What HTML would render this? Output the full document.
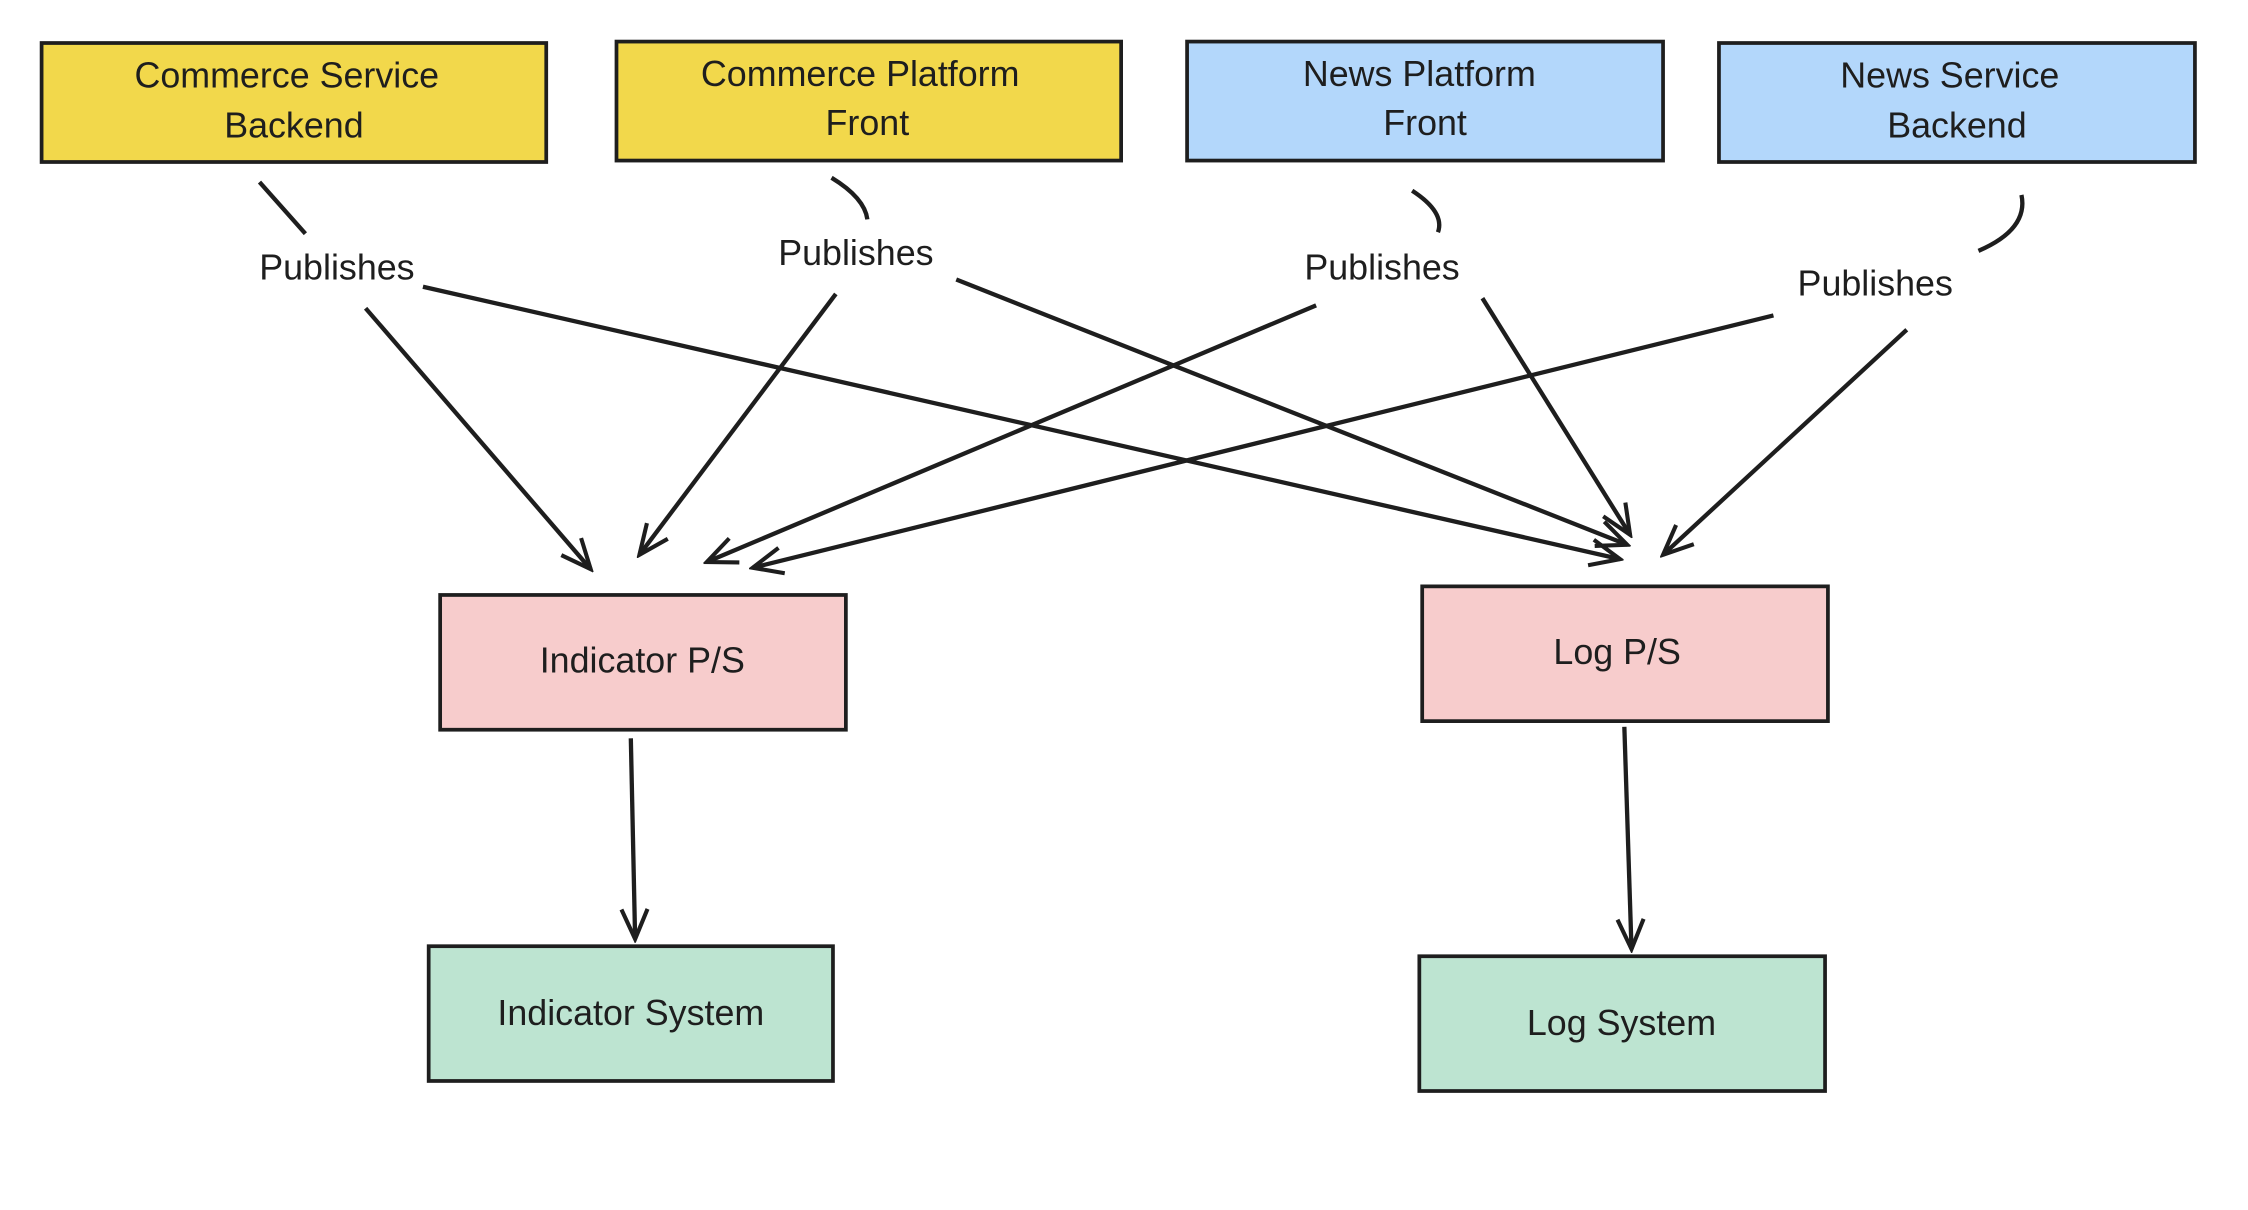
<!DOCTYPE html>
<html><head><meta charset="utf-8"><style>
html,body{margin:0;padding:0;background:#fff;}
svg{display:block;}
text{font-family:"Liberation Sans",sans-serif;fill:#1e1e1e;}
</style></head><body>
<svg width="2248" height="1210" viewBox="0 0 1568 844" xmlns="http://www.w3.org/2000/svg">
<defs>
<marker id="a" viewBox="0 0 20 20" refX="18" refY="10" markerWidth="26" markerHeight="26" markerUnits="userSpaceOnUse" orient="auto">
<path d="M2 3 L18 10 L2 17" fill="none" stroke="#1e1e1e" stroke-width="2.2"/>
</marker>
</defs>
<g stroke="#1e1e1e" stroke-width="2.6">
<rect x="29" y="30" width="352" height="83" fill="#f2d84b"/>
<rect x="430" y="29" width="352" height="83" fill="#f2d84b"/>
<rect x="828" y="29" width="332" height="83" fill="#b3d7fb"/>
<rect x="1199" y="30" width="332" height="83" fill="#b3d7fb"/>
<rect x="307" y="415" width="283" height="94" fill="#f7cccc"/>
<rect x="992" y="409" width="283" height="94" fill="#f7cccc"/>
<rect x="299" y="660" width="282" height="94" fill="#bde4d1"/>
<rect x="990" y="667" width="283" height="94" fill="#bde4d1"/>
</g>
<g font-size="25" text-anchor="middle">
<text x="200" y="61">Commerce Service</text><text x="205" y="96">Backend</text>
<text x="600" y="60">Commerce Platform</text><text x="605" y="94">Front</text>
<text x="990" y="60">News Platform</text><text x="994" y="94">Front</text>
<text x="1360" y="61">News Service</text><text x="1365" y="96">Backend</text>
<text x="448" y="469">Indicator P/S</text>
<text x="1128" y="463">Log P/S</text>
<text x="440" y="715">Indicator System</text>
<text x="1131" y="722">Log System</text>
<text x="235" y="195">Publishes</text>
<text x="597" y="185">Publishes</text>
<text x="964" y="195">Publishes</text>
<text x="1308" y="206">Publishes</text>
</g>
<g stroke="#1e1e1e" stroke-width="3" fill="none">
<path d="M181 127 L213 163"/>
<path d="M255 215 L412 397" marker-end="url(#a)"/>
<path d="M580 124 Q603 138 605 153"/>
<path d="M583 205 L446 387" marker-end="url(#a)"/>
<path d="M985 133 Q1008 148 1003 162"/>
<path d="M1034 208 L1137 373" marker-end="url(#a)"/>
<path d="M1410 136 Q1415 160 1380 175"/>
<path d="M1330 230 L1160 387" marker-end="url(#a)"/>
<path d="M295 200 L1130 390" marker-end="url(#a)"/>
<path d="M667 195 L1135 380" marker-end="url(#a)"/>
<path d="M918 213 L493 392" marker-end="url(#a)"/>
<path d="M1237 220 L525 396" marker-end="url(#a)"/>
<path d="M440 515 L443 655" marker-end="url(#a)"/>
<path d="M1133 507 L1138 662" marker-end="url(#a)"/>
</g>
</svg>
</body></html>
